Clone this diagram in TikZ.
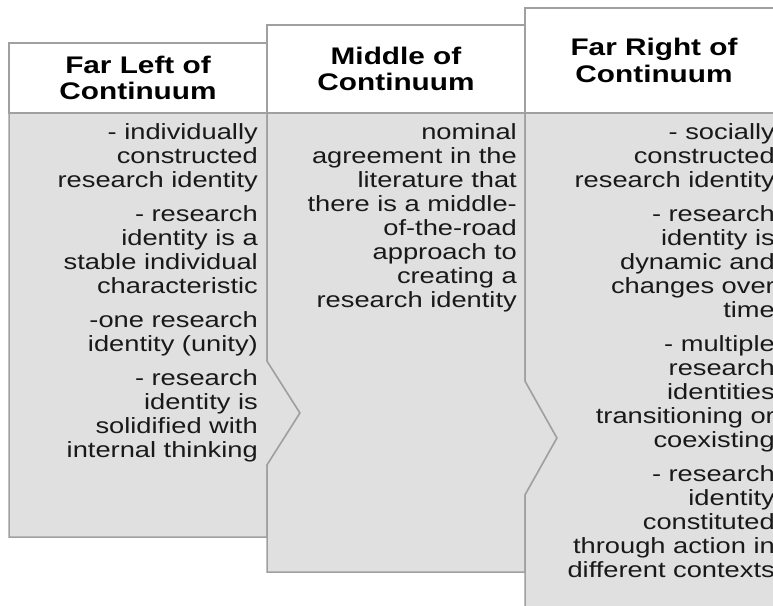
\documentclass[tikz,border=0pt]{standalone}
\usepackage{fontspec}
\newfontfamily\panelfont[FakeStretch=1.24]{Liberation Sans}
\definecolor{rimgray}{HTML}{A0A0A0}
\definecolor{panelgray}{HTML}{E0E0E0}
\tikzset{
  headbox/.style={draw=rimgray, line width=1.5pt, fill=white, align=center,
    minimum width=258pt, inner sep=0pt,
    font=\panelfont\bfseries\fontsize{24}{26.5}\selectfont},
  bodybox/.style={draw=rimgray, line width=1.5pt, fill=panelgray},
  bodytext/.style={anchor=north east, inner sep=0pt, align=right,
    text=black!90, font=\panelfont\fontsize{22}{24}\selectfont}
}
\begin{document}
\begin{tikzpicture}[x=1pt, y=-1pt]
  \useasboundingbox (0,0) rectangle (773,605);
  \clip (0,0) rectangle (773,605);
  % body panels, each notched by the one on its left
  \draw[bodybox] (9,113) -- (267,113) -- (267,361) -- (300,413) -- (267,465)
    -- (267,537) -- (9,537) -- cycle;
  \draw[bodybox] (267,113) -- (525,113) -- (525,381) -- (557,438) -- (525,495)
    -- (525,572) -- (267,572) -- (267,465) -- (300,413) -- (267,361) -- cycle;
  \draw[bodybox] (525,113) -- (790,113) -- (790,620) -- (525,620) -- (525,495)
    -- (557,438) -- (525,381) -- cycle;
  % headers
  \node[headbox, minimum height=70pt]  (lefthead)  at (138,78)   {Far Left of\\Continuum};
  \node[headbox, minimum height=88pt]  (midhead)   at (396,69)   {Middle of\\Continuum};
  \node[headbox, minimum height=105pt] (righthead) at (654,60.5) {Far Right of\\Continuum};
  % texts
  \node[bodytext] (lefttext) at (258,123) {- individually\\constructed\\research identity\\[10pt]
    - research\\identity is a\\stable individual\\characteristic\\[10pt]
    -one research\\identity (unity)\\[10pt]
    - research\\identity is\\solidified with\\internal thinking};
  \node[bodytext] (midtext) at (517,123) {nominal\\agreement in the\\literature that\\there is a middle-\\
    of-the-road\\approach to\\creating a\\research identity};
  \node[bodytext] (righttext) at (775,123) {- socially\\constructed\\research identity\\[10pt]
    - research\\identity is\\dynamic and\\changes over\\time\\[10pt]
    - multiple\\research\\identities\\transitioning or\\coexisting\\[10pt]
    - research\\identity\\constituted\\through action in\\different contexts};
\end{tikzpicture}
\end{document}
